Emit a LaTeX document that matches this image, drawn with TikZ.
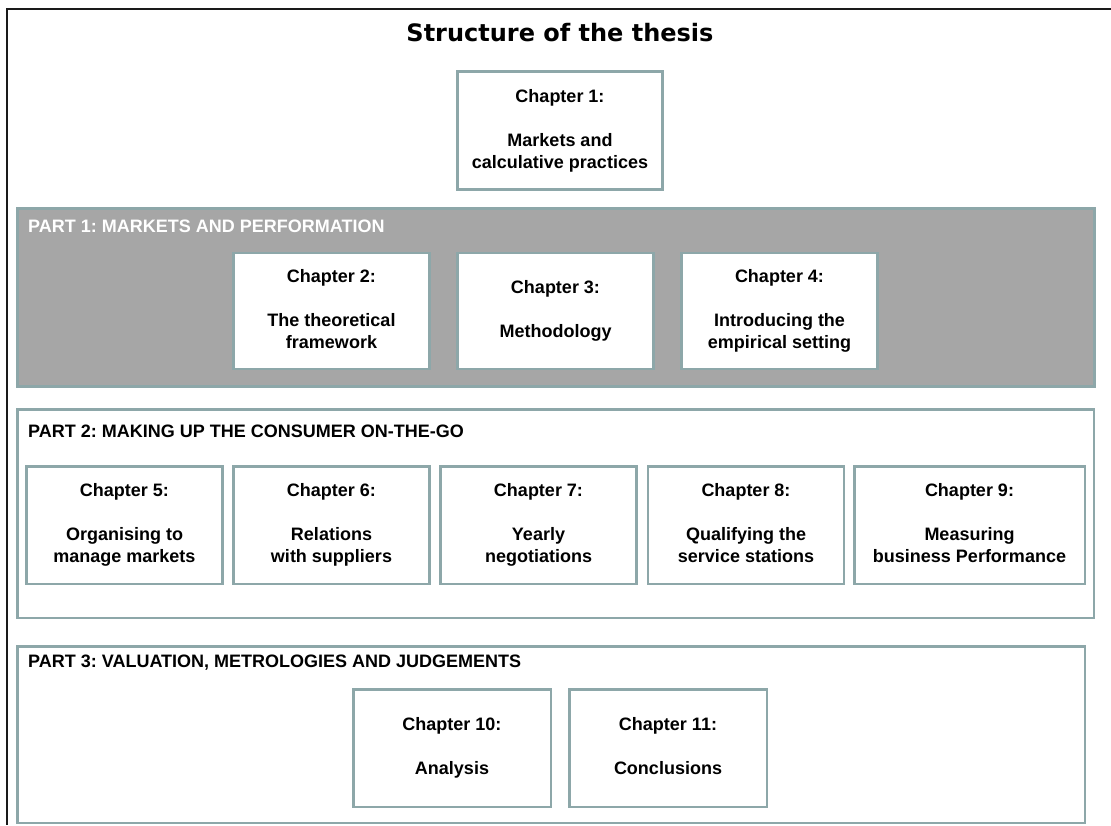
\documentclass[tikz,border=0pt]{standalone}
\usepackage{fontspec}
\setmainfont{Liberation Sans}
\newfontfamily\titlefont{DejaVu Sans}
\definecolor{edge}{HTML}{8DA7A9}
\definecolor{partgray}{HTML}{A6A6A6}
\definecolor{frameline}{HTML}{1A1A1A}
\frenchspacing
\begin{document}
\begin{tikzpicture}[x=1pt,y=-1pt,
  chapbox/.style={draw=edge, line width=2.5pt, fill=white, inner sep=0pt, align=center,
    minimum width=196pt, minimum height=116pt, text depth=4pt,
    font=\fontsize{18}{22}\selectfont\bfseries},
  partbox/.style={draw=edge, line width=2.5pt, inner sep=0pt},
  parttitle/.style={anchor=base west, inner sep=0pt, font=\fontsize{18}{22}\selectfont\bfseries}]
\useasboundingbox (0,0) rectangle (1111,825);

% outer frame (only its top and left edges lie inside the page)
\coordinate (frameTL) at (7,9);
\coordinate (frameTR) at (1111,9);
\coordinate (frameBL) at (7,825);
\draw[frameline, line width=2.5pt] (frameTR) -- (frameTL) -- (frameBL);

% title
\node (title) at (560,41) [anchor=base, inner sep=0pt,
  font={\titlefont\fontsize{24}{29}\selectfont\bfseries}] {Structure of the thesis};

% chapter 1
\node[chapbox, minimum width=205pt, minimum height=118pt] (ch1) at (560,130.5)
  {Chapter 1:\\[22pt]Markets and\\calculative practices};

% part 1
\node[partbox, fill=partgray, minimum width=1077pt, minimum height=178pt] (part1) at (556,297.5) {};
\node[parttitle, text=white] (part1title) at (28,232) {PART 1: MARKETS AND PERFORMATION};
\node[chapbox] (ch2) at (331.5,311) {Chapter 2:\\[22pt]The theoretical\\framework};
\node[chapbox] (ch3) at (555.5,311) {Chapter 3:\\[22pt]Methodology};
\node[chapbox] (ch4) at (779.5,311) {Chapter 4:\\[22pt]Introducing the\\empirical setting};

% part 2
\node[partbox, minimum width=1076.5pt, minimum height=208.5pt] (part2) at (555.5,513.5) {};
\node[parttitle] (part2title) at (28,437) {PART 2: MAKING UP THE CONSUMER ON-THE-GO};
\node[chapbox, minimum height=117.5pt] (ch5) at (124.5,525) {Chapter 5:\\[22pt]Organising to\\manage markets};
\node[chapbox, minimum height=117.5pt] (ch6) at (331.5,525) {Chapter 6:\\[22pt]Relations\\with suppliers};
\node[chapbox, minimum height=117.5pt] (ch7) at (538.5,525) {Chapter 7:\\[22pt]Yearly\\negotiations};
\node[chapbox, minimum height=117.5pt] (ch8) at (746,525) {Chapter 8:\\[22pt]Qualifying the\\service stations};
\node[chapbox, minimum width=230.5pt, minimum height=117.5pt] (ch9) at (969.5,525) {Chapter 9:\\[22pt]Measuring\\business Performance};

% part 3
\node[partbox, minimum width=1067.5pt, minimum height=176.5pt] (part3) at (551,734.5) {};
\node[parttitle] (part3title) at (28,667) {PART 3: VALUATION, METROLOGIES AND JUDGEMENTS};
\node[chapbox, minimum width=197.5pt, minimum height=117.5pt] (ch10) at (452,748) {Chapter 10:\\[22pt]Analysis};
\node[chapbox, minimum width=197.5pt, minimum height=117.5pt] (ch11) at (668,748) {Chapter 11:\\[22pt]Conclusions};
\end{tikzpicture}
\end{document}
